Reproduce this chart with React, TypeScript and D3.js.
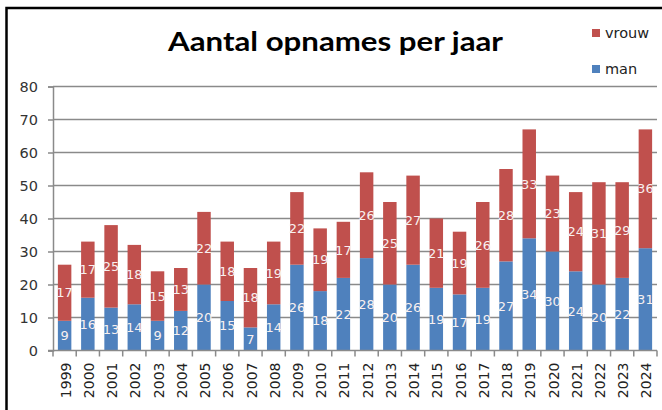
import React, { useEffect, useRef } from "react";
import * as d3 from "d3";

const years = ["1999", "2000", "2001", "2002", "2003", "2004", "2005", "2006", "2007", "2008", "2009", "2010", "2011", "2012", "2013", "2014", "2015", "2016", "2017", "2018", "2019", "2020", "2021", "2022", "2023", "2024"];
const man = [9, 16, 13, 14, 9, 12, 20, 15, 7, 14, 26, 18, 22, 28, 20, 26, 19, 17, 19, 27, 34, 30, 24, 20, 22, 31];
const vrouw = [17, 17, 25, 18, 15, 13, 22, 18, 18, 19, 22, 19, 17, 26, 25, 27, 21, 19, 26, 28, 33, 23, 24, 31, 29, 36];
const yTicks = [0, 10, 20, 30, 40, 50, 60, 70, 80];

const W = 662;
const H = 410;

const App = () => {
    const ref = useRef(null);

    useEffect(() => {
        const svg = d3.select(ref.current);
        svg.selectAll("*").remove();

        const font = "'DejaVu Sans', sans-serif";
        const x = d3.scaleBand().domain(years).range([53, 657]).padding(0);
        const y = d3.scaleLinear().domain([0, 80]).range([350.5, 86.5]);
        const barW = x.bandwidth() * 0.58;

        // frame
        svg.append("rect")
            .attr("x", 6.5).attr("y", 8)
            .attr("width", 700).attr("height", 500)
            .attr("fill", "white")
            .attr("stroke", "black")
            .attr("stroke-width", 2.5);

        // gridlines
        svg.selectAll(".grid")
            .data(yTicks.slice(1))
            .enter().append("line")
            .attr("x1", 53).attr("x2", 657)
            .attr("y1", d => y(d)).attr("y2", d => y(d))
            .attr("stroke", "#8a8a8a")
            .attr("stroke-width", 1.5);

        // y axis
        const yAxis = svg.append("g")
            .attr("transform", "translate(53,0)")
            .call(d3.axisLeft(y).tickValues(yTicks).tickSize(5).tickPadding(10));
        yAxis.select(".domain").attr("stroke", "#8a8a8a").attr("stroke-width", 1.5);
        yAxis.selectAll(".tick line").attr("stroke", "#8a8a8a").attr("stroke-width", 1.5);
        yAxis.selectAll(".tick text")
            .style("font-family", font)
            .style("font-size", "14.5px")
            .attr("fill", "#333");

        // stacked bars
        const stack = d3.stack().keys(["man", "vrouw"])(
            years.map((yr, i) => ({ year: yr, man: man[i], vrouw: vrouw[i] }))
        );
        const colors = { man: "#4f81bd", vrouw: "#c0504d" };

        stack.forEach(layer => {
            const g = svg.append("g");
            g.selectAll("rect")
                .data(layer)
                .enter().append("rect")
                .attr("x", d => x(d.data.year) + (x.bandwidth() - barW) / 2)
                .attr("width", barW)
                .attr("y", d => y(d[1]))
                .attr("height", d => y(d[0]) - y(d[1]))
                .attr("fill", colors[layer.key]);
            g.selectAll("text")
                .data(layer)
                .enter().append("text")
                .text(d => d[1] - d[0])
                .attr("x", d => x(d.data.year) + x.bandwidth() / 2)
                .attr("y", d => y((d[0] + d[1]) / 2))
                .attr("dy", "0.36em")
                .attr("text-anchor", "middle")
                .style("font-family", font)
                .style("font-size", "13px")
                .attr("fill", "#f8f0f0");
        });

        // x axis
        const xAxis = svg.append("g")
            .attr("transform", "translate(0,350.5)");
        xAxis.append("line")
            .attr("x1", 48).attr("x2", 657)
            .attr("stroke", "#8a8a8a").attr("stroke-width", 1.5);
        xAxis.selectAll(".xt")
            .data(years.concat(["end"]))
            .enter().append("line")
            .attr("x1", (d, i) => i < years.length ? x(d) : x.range()[1])
            .attr("x2", (d, i) => i < years.length ? x(d) : x.range()[1])
            .attr("y1", 0).attr("y2", 6)
            .attr("stroke", "#8a8a8a").attr("stroke-width", 1.5);
        xAxis.selectAll(".xl")
            .data(years)
            .enter().append("text")
            .text(d => d)
            .attr("transform", d => `translate(${x(d) + x.bandwidth() / 2 + 1},12) rotate(-90)`)
            .attr("dy", "0.36em")
            .attr("text-anchor", "end")
            .style("font-family", font)
            .style("font-size", "14px")
            .attr("fill", "#222");

        // title
        svg.append("text")
            .text("Aantal opnames per jaar")
            .attr("x", 335.5).attr("y", 51)
            .attr("text-anchor", "middle")
            .attr("textLength", 335)
            .attr("lengthAdjust", "spacingAndGlyphs")
            .style("font-family", "Lato, 'Open Sans', sans-serif")
            .style("font-weight", "bold")
            .style("font-size", "27px")
            .attr("fill", "black");

        // legend
        const legend = [
            { key: "vrouw", y: 29 },
            { key: "man", y: 65 },
        ];
        legend.forEach(l => {
            svg.append("rect")
                .attr("x", 592).attr("y", l.y)
                .attr("width", 8).attr("height", 8)
                .attr("fill", colors[l.key]);
            svg.append("text")
                .text(l.key)
                .attr("x", 605).attr("y", l.y + 9)
                .style("font-family", font)
                .style("font-size", "14.5px")
                .attr("fill", "#222");
        });
    }, []);

    return (
        <svg
            ref={ref}
            width={W}
            height={H}
            style={{ position: "absolute", left: 0, top: 0, background: "white" }}
        />
    );
};

export default App;
